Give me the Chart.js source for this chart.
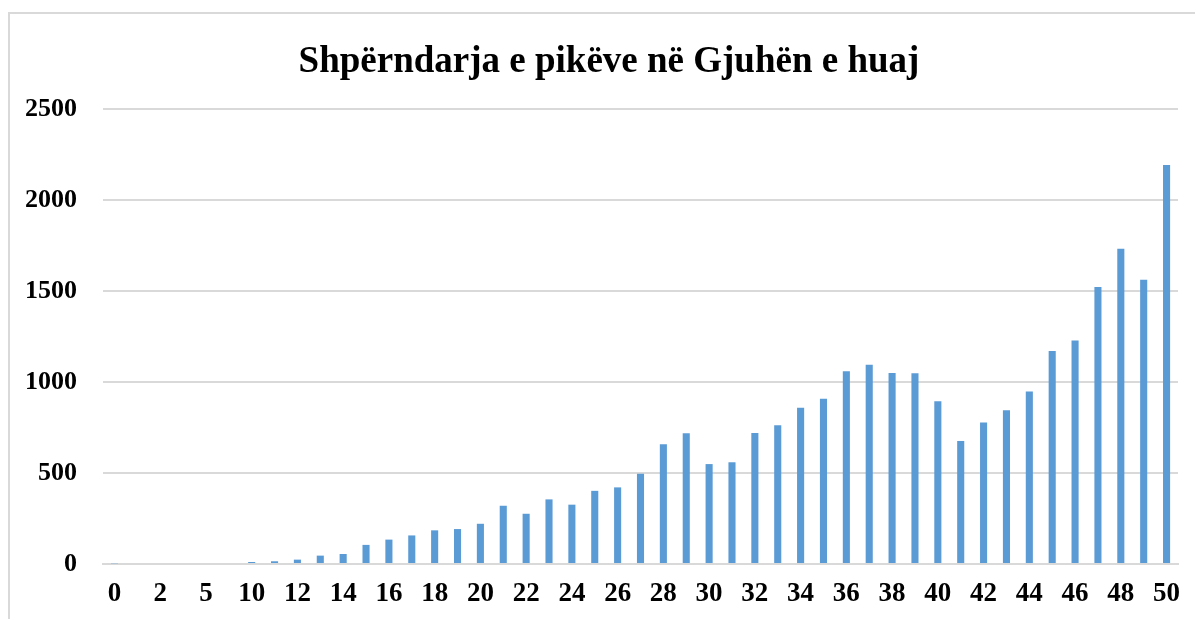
<!DOCTYPE html>
<html>
<head>
<meta charset="utf-8">
<script src="https://cdn.jsdelivr.net/npm/chart.js@4/dist/chart.umd.min.js"></script>
<style>
  html, body { margin: 0; padding: 0; background: #fff; }
  #wrap { position: relative; width: 1195px; height: 619px; overflow: hidden; }
  #frame { position: absolute; left: 8px; top: 12px; width: 1200px; height: 620px;
           border-left: 2px solid #d9d9d9; border-top: 2px solid #d9d9d9; box-sizing: border-box; }
  #c { position: absolute; left: 0; top: 0; }
  #title { position: absolute; left: 209px; width: 800px; top: 38px; text-align: center;
           font-family: "Liberation Serif", "Times New Roman", serif; font-weight: bold;
           font-size: 37px; line-height: 44px; color: #000; white-space: nowrap; }
</style>
</head>
<body>
<div id="wrap">
  <div id="frame"></div>
  <canvas id="c" width="1195" height="619"></canvas>
  <div id="title"></div>
</div>
<script>
const titleText = 'Shpërndarja e pikëve në Gjuhën e huaj';
const categories = ['0','1','2','3','5','7','10','11','12','13','14','15','16','17','18','19','20',
  '21','22','23','24','25','26','27','28','29','30','31','32','33','34','35','36','37','38','39','40',
  '41','42','43','44','45','46','47','48','49','50'];
const counts = [4,0,0,0,0,0,11,15,24,46,55,105,134,157,185,192,221,
  320,276,355,326,402,421,496,658,718,549,559,720,762,859,908,1059,1095,1049,1048,894,
  676,777,845,948,1170,1228,1522,1732,1562,2192];
const yTicks = [0,500,1000,1500,2000,2500];

document.getElementById('title').textContent = titleText;

const fontFam = '"Liberation Serif", "Times New Roman", serif';

new Chart(document.getElementById('c'), {
  type: 'bar',
  data: {
    labels: categories,
    datasets: [{
      data: counts,
      backgroundColor: '#5b9bd5',
      borderWidth: 0,
      barPercentage: 0.31,
      categoryPercentage: 1.0
    }]
  },
  options: {
    responsive: false,
    animation: false,
    devicePixelRatio: 1,
    layout: { padding: { left: 0, right: 17, top: 109, bottom: 0 } },
    plugins: {
      legend: { display: false },
      tooltip: { enabled: false },
      title: { display: false }
    },
    scales: {
      x: {
        offset: true,
        grid: { display: false, drawTicks: false },
        border: { display: true, color: '#d9d9d9', width: 2 },
        ticks: {
          color: '#000',
          font: { family: fontFam, size: 27, weight: 'bold' },
          padding: 14,
          autoSkip: false,
          maxRotation: 0,
          minRotation: 0,
          callback: function(v, i) { return i % 2 === 0 ? categories[i] : ''; }
        },
        afterFit: function(s) { s.height = 55; }
      },
      y: {
        min: 0,
        max: 2500,
        afterBuildTicks: function(s) { s.ticks = yTicks.map(v => ({ value: v })); },
        grid: { color: '#d9d9d9', lineWidth: 2, drawTicks: false },
        border: { display: false },
        ticks: {
          color: '#000',
          font: { family: fontFam, size: 26, weight: 'bold' },
          padding: 26,
          callback: function(v) { return String(v); }
        },
        afterFit: function(s) { s.width = 103; }
      }
    }
  }
});
</script>
</body>
</html>
